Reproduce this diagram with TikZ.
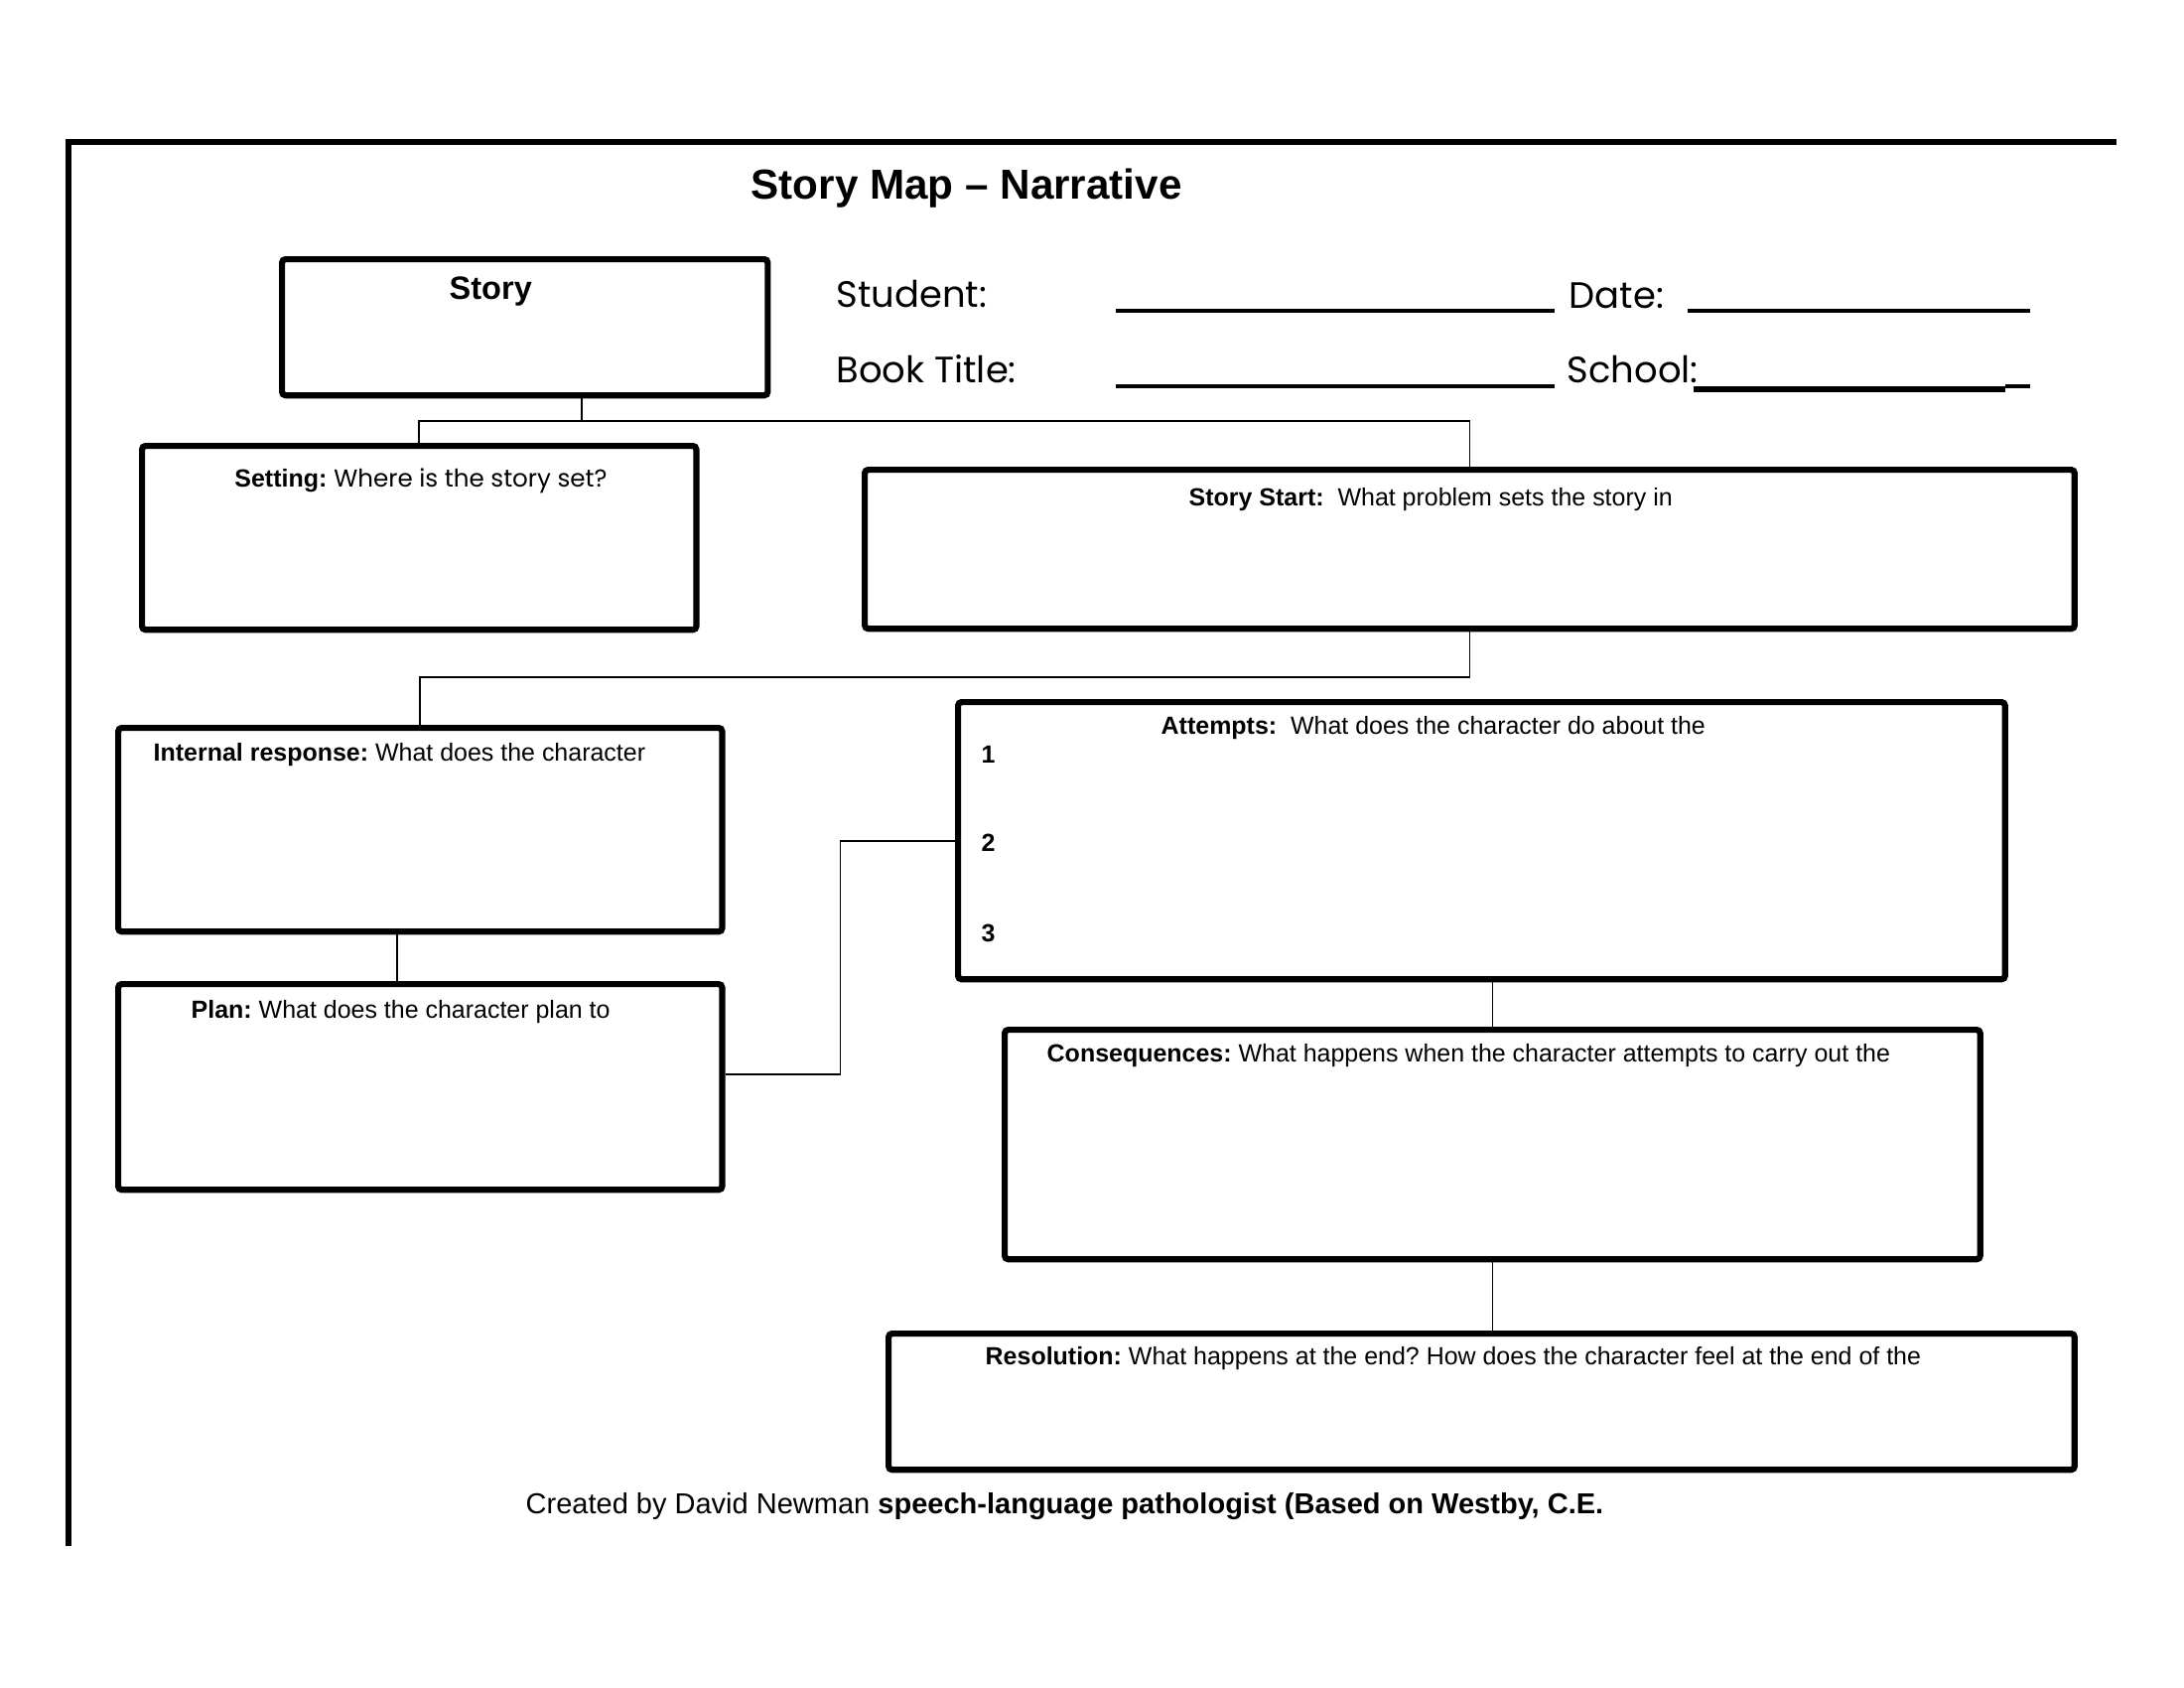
\documentclass[tikz,border=0pt]{standalone}
\usepackage{fontspec}
\setmainfont{Liberation Sans}
\newfontfamily\comicfont{Poppins}
\usetikzlibrary{calc}
\frenchspacing

\begin{document}
\begin{tikzpicture}[
  x=0.01cm, y=-0.01cm,
  box/.style={draw, line width=0.062cm, rounded corners=1pt, inner sep=0pt,
              anchor=north west},
  link/.style={line width=0.018cm},
  lbl/.style={anchor=base west, inner sep=0pt, font=\fontsize{7.1}{8.5}\selectfont},
  form/.style={anchor=base west, inner sep=0pt, font=\comicfont\fontsize{10.5}{12}\selectfont},
  blank/.style={line width=0.045cm}
]
  \useasboundingbox (0,0) rectangle (2200,1700);

  % Page frame
  \draw[line width=0.05cm] (69,1557) -- (69,140);
  \draw[line width=0.06cm] (66,143) -- (2132,143);

  % Heading
  \node[anchor=base west, inner sep=0pt, font=\bfseries\fontsize{12}{14}\selectfont] (title) at (756,201) {Story Map -- Narrative};

  % Story box and form fields
  \node[box, minimum width=4.89cm, minimum height=1.37cm] (story) at (281,258) {};
  \node[lbl, font=\bfseries\fontsize{9.25}{11}\selectfont] (storylbl) at (452,301) {Story};
  \node[form] (student) at (842,309) {Student:};
  \node[form] (booktitle) at (842,385) {Book Title:};
  \node[form] (date) at (1580,310) {Date:};
  \node[form] (school) at (1578,385) {School:};
  \draw[blank] (1124,313) -- (1566,313);
  \draw[blank] (1124,389) -- (1566,389);
  \draw[blank] (1700,313) -- (2045,313);
  \draw[line width=0.058cm] (1706,392) -- (2020,392);
  \draw[blank] (2020,389) -- (2045,389);

  % Setting and story start
  \node[box, minimum width=5.58cm, minimum height=1.85cm] (setting) at (140,446) {};
  \node[lbl, anchor=base] (settinglbl) at (424,490) {\textbf{Setting:} {\comicfont\fontsize{7}{8.5}\selectfont Where is the story set?}};
  \node[box, minimum width=12.18cm, minimum height=1.60cm] (start) at (868,470) {};
  \node[lbl] (startlbl) at (1197,509) {\textbf{Story Start:}\ \ What problem sets the story in};

  % Internal response and plan
  \node[box, minimum width=6.08cm, minimum height=2.05cm] (internal) at (116,730) {};
  \node[lbl] (internallbl) at (154,766) {\textbf{Internal response:} What does the character};
  \node[box, minimum width=6.08cm, minimum height=2.07cm] (plan) at (116,988) {};
  \node[lbl] (planlbl) at (192,1025) {\textbf{Plan:} What does the character plan to};

  % Attempts
  \node[box, minimum width=10.54cm, minimum height=2.79cm] (attempts) at (962,704) {};
  \node[lbl] (attemptslbl) at (1169,739) {\textbf{Attempts:}\ \ What does the character do about the};
  \node[lbl, font=\bfseries\fontsize{7.1}{8.5}\selectfont] (one) at (988,768) {1};
  \node[lbl, font=\bfseries\fontsize{7.1}{8.5}\selectfont] (two) at (988,857) {2};
  \node[lbl, font=\bfseries\fontsize{7.1}{8.5}\selectfont] (three) at (988,948) {3};

  % Consequences and resolution
  \node[box, minimum width=9.82cm, minimum height=2.31cm] (consequences) at (1009,1034) {};
  \node[lbl] (consequenceslbl) at (1054,1069) {\textbf{Consequences:} What happens when the character attempts to carry out the};
  \node[box, minimum width=11.94cm, minimum height=1.37cm] (resolution) at (892,1340) {};
  \node[lbl] (resolutionlbl) at (992,1374) {\textbf{Resolution:} What happens at the end? How does the character feel at the end of the};

  % Footer
  \node[lbl, font=\fontsize{8.25}{10}\selectfont] (credit) at (529,1524) {Created by David Newman \textbf{speech-language pathologist (Based on Westby, C.E.}};

  % Connectors
  \draw[link] ([xshift=.575cm]story.south) -- ++(0,23) coordinate (bus);
  \draw[link] (setting.north) |- (bus) -| (start.north);
  \draw[link] (start.south) -- ++(0,46) -| (internal.north);
  \draw[link] ([xshift=-.23cm]internal.south) -- ([xshift=-.23cm]plan.north);
  \draw[link] ([yshift=.125cm]plan.east) -- ++(116,0) |- (attempts.west);
  \draw[link] (consequences.north |- attempts.south) -- (consequences.north);
  \draw[link] (consequences.south) -- (consequences.south |- resolution.north);
\end{tikzpicture}
\end{document}
